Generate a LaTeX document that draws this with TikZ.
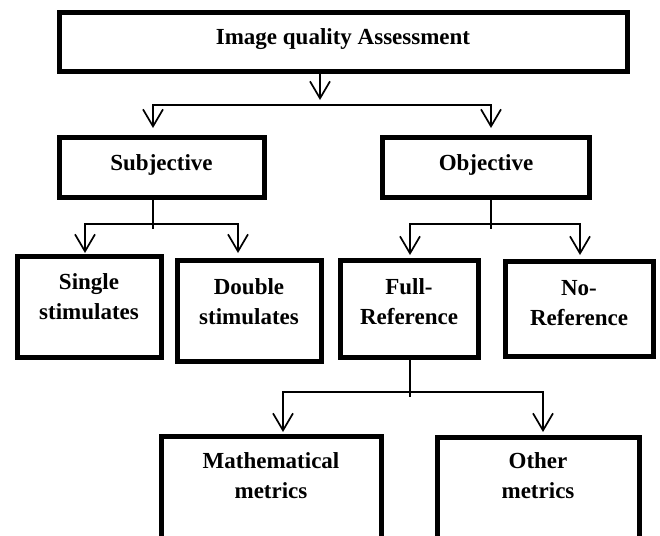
\documentclass[tikz,border=0pt]{standalone}
\usepackage{fontspec}
\setmainfont{Liberation Serif}
\usetikzlibrary{arrows.meta}

\tikzset{
  box/.style={draw=black, line width=5pt, rectangle, inner sep=0pt, outer sep=0pt},
  lbl/.style={font=\fontsize{23}{30}\selectfont\bfseries, align=center, inner sep=0pt},
  conn/.style={draw=black, line width=1.7pt},
  barb/.tip={Straight Barb[length=17pt, width=20pt]},
}

\begin{document}
\begin{tikzpicture}[x=1pt, y=-1pt]
  \useasboundingbox (0,0) rectangle (660,535);
  \clip (0,0) rectangle (660,535);

  % boxes
  \node[box, minimum width=568pt, minimum height=58pt] (top) at (343,42) {};
  \node[box, minimum width=205pt, minimum height=60pt] (subj) at (161.5,167) {};
  \node[box, minimum width=207.5pt, minimum height=60pt] (obj) at (486,167) {};
  \node[box, minimum width=144pt, minimum height=101pt] (single) at (89,306.5) {};
  \node[box, minimum width=144pt, minimum height=101pt] (double) at (249,310.5) {};
  \node[box, minimum width=138pt, minimum height=97pt] (full) at (409,308.5) {};
  \node[box, minimum width=148pt, minimum height=95pt] (noref) at (579,308.5) {};
  \node[box, minimum width=220pt, minimum height=124pt] (math) at (271,498) {};
  \node[box, minimum width=202pt, minimum height=123pt] (other) at (538,498.5) {};

  % labels (base anchor = baseline of the last line)
  \node[lbl, anchor=base] (ttop) at (343,45) {Image quality Assessment};
  \node[lbl, anchor=base] (tsubj) at (161.5,170) {Subjective};
  \node[lbl, anchor=base] (tobj) at (486,170) {Objective};
  \node[lbl, anchor=base] (tsingle) at (89,319) {Single\\stimulates};
  \node[lbl, anchor=base] (tdouble) at (249,324) {Double\\stimulates};
  \node[lbl, anchor=base] (tfull) at (409,324) {Full-\\Reference};
  \node[lbl, anchor=base] (tnoref) at (579,325) {No-\\Reference};
  \node[lbl, anchor=base] (tmath) at (271,498) {Mathematical\\metrics};
  \node[lbl, anchor=base] (tother) at (538,498) {Other\\metrics};

  % junction points and arrow tips
  \coordinate (toptip) at (320,100);
  \coordinate (barL) at (153,105);
  \coordinate (barR) at (491,105);
  \coordinate (subjtip) at (153,128);
  \coordinate (objtip) at (491,128);

  \coordinate (sstem) at (153,229);
  \coordinate (sbarL) at (85,224);
  \coordinate (sbarR) at (238,224);
  \coordinate (singletip) at (85,253);
  \coordinate (doubletip) at (238,253);

  \coordinate (ostem) at (491,229);
  \coordinate (obarL) at (410,224);
  \coordinate (obarR) at (580,224);
  \coordinate (fulltip) at (410,255);
  \coordinate (noreftip) at (580,255);

  \coordinate (fstem) at (410,397);
  \coordinate (fbarL) at (283,392);
  \coordinate (fbarR) at (543,392);
  \coordinate (mathtip) at (283,432);
  \coordinate (othertip) at (543,432);

  % connectors
  \draw[conn, -barb] (top.south -| toptip) -- (toptip);
  \draw[conn, barb-barb] (subjtip) -- (barL) -- (barR) -- (objtip);

  \draw[conn] (subj.south -| sstem) -- (sstem);
  \draw[conn, barb-barb] (singletip) -- (sbarL) -- (sbarR) -- (doubletip);

  \draw[conn] (obj.south -| ostem) -- (ostem);
  \draw[conn, barb-barb] (fulltip) -- (obarL) -- (obarR) -- (noreftip);

  \draw[conn] (full.south -| fstem) -- (fstem);
  \draw[conn, barb-barb] (mathtip) -- (fbarL) -- (fbarR) -- (othertip);
\end{tikzpicture}
\end{document}
